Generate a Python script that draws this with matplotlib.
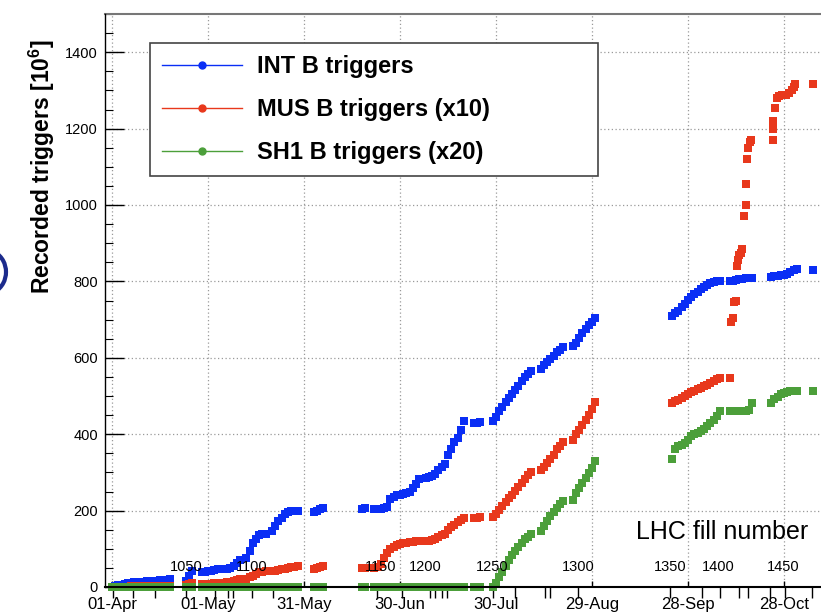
import datetime as dt
import matplotlib
matplotlib.use("Agg")
import matplotlib.pyplot as plt
import matplotlib.dates as mdates
import matplotlib.transforms as mtransforms
from matplotlib.lines import Line2D
from matplotlib.patches import Arc
from matplotlib.ticker import MultipleLocator

plt.rcParams['font.family'] = ['Liberation Sans', 'DejaVu Sans']
plt.rcParams['mathtext.fontset'] = 'custom'
plt.rcParams['mathtext.rm'] = 'Liberation Sans'
plt.rcParams['mathtext.bf'] = 'Liberation Sans:bold'

# day 0 = 01-Apr-2010
start = dt.datetime(2010, 4, 1)

# days of each recorded fill (shared by INT and SH1, and the low MUS branch)
fill_days = [0, 1, 2, 3, 4, 5, 6, 7,
             9, 10, 11, 12, 13, 14, 15, 16, 17, 18,
             23, 24, 25,
             28, 29, 30, 31, 32, 33,
             35, 36, 37, 38, 39, 40,
             42, 43, 44, 45, 46, 47, 48,
             50, 51, 52, 53, 54, 55, 56, 57, 58,
             63, 64, 65, 66,
             78, 79,
             82, 83, 84, 85, 86, 87,
             88, 89, 90, 91, 92, 93,
             94, 95, 96,
             98, 99, 100,
             101, 102, 103, 104, 105, 106, 107, 108, 109, 110,
             113, 114, 115,
             119, 120, 121, 122, 123, 124, 125, 126, 127, 128, 129, 130, 131,
             134, 135, 136, 137, 138, 139, 140, 141,
             144, 145, 146, 147, 148, 149, 150, 151,
             175, 176, 177, 178, 179, 180, 181, 182, 183, 184, 185, 186, 187, 188, 189, 190,
             193, 194, 195, 196, 197, 198, 199, 200,
             206, 207, 208, 209, 210, 211, 212, 213, 214,
             219]

int_b = [1, 2, 4, 6, 8, 10, 11, 12,
         13, 14, 15, 15, 16, 17, 18, 18, 19, 20,
         15, 30, 42,
         38, 40, 42, 43, 45, 46,
         46, 48, 50, 55, 62, 70,
         76, 95, 115, 125, 135, 138, 140,
         147, 160, 172, 181, 190, 196, 200, 200, 200,
         197, 200, 203, 207,
         205, 206,
         203, 205, 205, 206, 210, 230,
         236, 240, 242, 244, 246, 248,
         260, 270, 283,
         285, 288, 290,
         296, 305, 315, 322, 345, 360, 380, 390, 410, 435,
         430, 430, 432,
         435, 445, 460, 470, 485, 495, 505, 515, 527, 540, 550, 558, 566,
         571, 580, 590, 598, 605, 615, 620, 627,
         630, 640, 652, 665, 675, 685, 695, 705,
         710, 716, 722, 732, 742, 752, 760, 767, 773, 779, 785, 790, 795, 798, 800, 802,
         800, 802, 803, 805, 807, 808, 810, 810,
         812, 814, 815, 816, 818, 820, 825, 830, 833,
         830]

sh1_b = [0, 0, 0, 0, 0, 0, 0, 0,
         0, 0, 0, 0, 0, 0, 0, 0, 0, 0,
         0, 0, 0,
         0, 0, 0, 0, 0, 0,
         0, 0, 0, 0, 0, 0,
         0, 0, 0, 0, 0, 0, 0,
         0, 0, 0, 0, 0, 0, 0, 0, 0,
         0, 0, 0, 0,
         0, 0,
         0, 0, 0, 0, 0, 0,
         0, 0, 0, 0, 0, 0,
         0, 0, 0,
         0, 0, 0,
         0, 0, 0, 0, 0, 0, 0, 0, 0, 0,
         0, 0, 0,
         0, 10, 25, 40, 55, 70, 85, 95, 105, 115, 125, 132, 139,
         147, 160, 172, 185, 197, 208, 217, 225,
         228, 245, 258, 272, 285, 298, 312, 330,
         335, 362, 368, 372, 376, 385, 396, 400, 403, 408, 413, 422, 430, 438, 448, 461,
         461, 461, 461, 461, 462, 462, 463, 482,
         482, 492, 498, 505, 508, 510, 513, 513, 513,
         513]

mus_days = [0, 1, 2, 3, 4, 5, 6, 7,
            9, 10, 11, 12, 13, 14, 15, 16, 17, 18,
            23, 24, 25,
            28, 29, 30, 31, 32, 33,
            35, 36, 37, 38, 39, 40,
            42, 43, 44, 45, 46, 47, 48,
            50, 51, 52, 53, 54, 55, 56, 57, 58,
            63, 64, 65, 66,
            78, 79,
            82, 83, 84, 85, 86, 87,
            88, 89, 90, 91, 92, 93,
            94, 95, 96,
            98, 99, 100,
            101, 102, 103, 104, 105, 106, 107, 108, 109, 110,
            113, 114, 115,
            119, 120, 121, 122, 123, 124, 125, 126, 127, 128, 129, 130, 131,
            134, 135, 136, 137, 138, 139, 140, 141,
            144, 145, 146, 147, 148, 149, 150, 151,
            175, 176, 177, 178, 179, 180, 181, 182, 183, 184, 185, 186, 187, 188, 189, 190,
            193,
            193.5, 194, 194.5, 195, 195.3, 195.6, 196, 196.5, 197, 197.5, 198, 198.2, 198.5, 198.8, 199.3, 199.8,
            206.5, 206.6, 206.7, 207.2, 207.8, 208.5, 209.5, 210.5, 211.5, 212.5, 213, 213.5,
            219]

mus_b = [0, 0, 1, 1, 1, 1, 2, 2,
         2, 2, 2, 2, 2, 3, 3, 3, 3, 3,
         5, 8, 10,
         8, 8, 9, 9, 10, 10,
         10, 12, 14, 16, 18, 20,
         20, 25, 30, 35, 38, 40, 42,
         42, 43, 44, 46, 48, 50, 52, 53, 54,
         48, 50, 53, 55,
         50, 51,
         50, 52, 60, 75, 88, 100,
         105, 110, 112, 114, 116, 118,
         118, 120, 120,
         120, 121, 122,
         126, 130, 135, 139, 150, 157, 163, 170, 176, 181,
         181, 181, 182,
         182, 192, 202, 212, 222, 232, 242, 252, 262, 272, 282, 292, 300,
         305, 315, 325, 335, 345, 360, 370, 380,
         385, 400, 412, 425, 437, 450, 465, 485,
         482, 486, 490, 495, 500, 506, 510, 514, 519, 522, 526, 530, 535, 540, 544, 546,
         547,
         695, 703, 745, 750, 840, 855, 868, 875, 886, 970, 1000, 1056, 1120, 1150, 1165, 1170,
         1170, 1200, 1221, 1255, 1279, 1285, 1287, 1289, 1292, 1300, 1308, 1318,
         1318]

# LHC fill number axis (labels and tick positions in days)
fill_labels = ['1050', '1100', '1150', '1200', '1250', '1300', '1350', '1400', '1450']
fill_label_days = [23.1, 43.75, 84.0, 97.8, 118.75, 145.6, 174.4, 189.4, 209.7]
fill_tick_days = [0.3, 6.6, 13.4, 23.1, 32.2, 36.25, 37.8, 43.75, 50.3, 82.8, 90.6,
                  99.4, 101.0, 103.0, 104.7, 119.0, 126.0, 135.3, 136.9, 145.6,
                  174.4, 184.4, 190.0, 196.0, 198.75, 205.6, 210.3, 218.75]

date_ticks = [0, 30, 60, 90, 120, 150, 180, 210]

blue = '#0a2ef5'
red = '#e8381c'
green = '#4c9f3a'


def to_dates(days):
    return [start + dt.timedelta(days=d) for d in days]


fig = plt.figure(figsize=(8.21, 6.14), dpi=100)
W, H = 821, 614
ax = fig.add_axes([105 / W, 27 / H, (830 - 105) / W, (587 - 14) / H])

ms = 5.2
ax.plot(to_dates(fill_days), int_b, 's', color=blue, ms=ms, mew=0, zorder=3)
ax.plot(to_dates(mus_days), mus_b, 's', color=red, ms=ms, mew=0, zorder=3)
ax.plot(to_dates(fill_days), sh1_b, 's', color=green, ms=ms, mew=0, zorder=4,
        clip_on=False)

ax.set_xlim(start - dt.timedelta(days=2.2), start + dt.timedelta(days=224.4))
ax.set_ylim(0, 1500)

ax.set_xticks(to_dates(date_ticks))
ax.xaxis.set_major_formatter(mdates.DateFormatter('%d-%b'))
ax.yaxis.set_major_locator(MultipleLocator(200))
ax.yaxis.set_minor_locator(MultipleLocator(50))
ax.tick_params(axis='y', which='major', direction='in', length=14, width=1,
               labelsize=10.5, pad=5)
ax.tick_params(axis='y', which='minor', direction='in', length=6, width=0.8)
ax.tick_params(axis='x', which='major', direction='in', length=4, width=1,
               labelsize=12, pad=7)

ax.grid(True, which='major', color='#9a9a9a', linestyle=(0, (1, 2)), lw=0.9)
ax.set_axisbelow(True)

for side in ['left', 'bottom']:
    ax.spines[side].set_color('black')
    ax.spines[side].set_zorder(5)
ax.spines['bottom'].set_linewidth(1.5)
ax.spines['left'].set_linewidth(1.0)
ax.spines['top'].set_color('#777777')
ax.spines['top'].set_linewidth(1.5)
ax.spines['right'].set_visible(False)

# fill number ticks hanging below the time axis
sec = ax.secondary_xaxis('bottom')
sec.set_xticks(to_dates(fill_tick_days))
sec.set_xticklabels([])
sec.tick_params(direction='out', length=8, width=1)
sec.spines['bottom'].set_visible(False)

trans = mtransforms.blended_transform_factory(ax.transData, ax.transAxes)
for lab, d in zip(fill_labels, fill_label_days):
    ax.text(mdates.date2num(start + dt.timedelta(days=d)), 0.035, lab,
            transform=trans, ha='center', va='center', fontsize=10.5, zorder=6)

fig.text(722 / W, 1 - 532 / H, 'LHC fill number', fontsize=18,
         ha='center', va='center')

fig.text(42 / W, 1 - 167 / H, r'Recorded triggers [10$^{\mathbf{6}}$]',
         rotation=90, fontsize=16.5, fontweight='bold', ha='center', va='center')

handles = [Line2D([0], [0], color=blue, lw=1, marker='o', ms=5),
           Line2D([0], [0], color=red, lw=1, marker='o', ms=5),
           Line2D([0], [0], color=green, lw=1, marker='o', ms=5)]
labels = ['INT B triggers', 'MUS B triggers (x10)', 'SH1 B triggers (x20)']
ax_w = 830 - 105
ax_h = 587 - 14
leg = ax.legend(handles, labels, loc='upper left', mode='expand',
                bbox_to_anchor=((150 - 105) / ax_w, 1 - (172 - 14) / ax_h,
                                (598 - 150) / ax_w, (172 - 43) / ax_h),
                borderaxespad=0, numpoints=1, handlelength=3.4,
                handletextpad=0.65, labelspacing=0.86, borderpad=0.5,
                fancybox=False, framealpha=1, edgecolor='#444444',
                prop={'size': 17, 'weight': 'bold'})
leg.get_frame().set_linewidth(1.2)
leg.set_zorder(7)

# edge of a circled mark sitting left of the axis title
fig.add_artist(Arc((-14 / W, 1 - 272 / H), 40 / W, 44 / H, theta1=-70, theta2=70,
                   transform=fig.transFigure, color='#1c2b8c', lw=3, clip_on=False))

fig.savefig('out.png', dpi=100)
